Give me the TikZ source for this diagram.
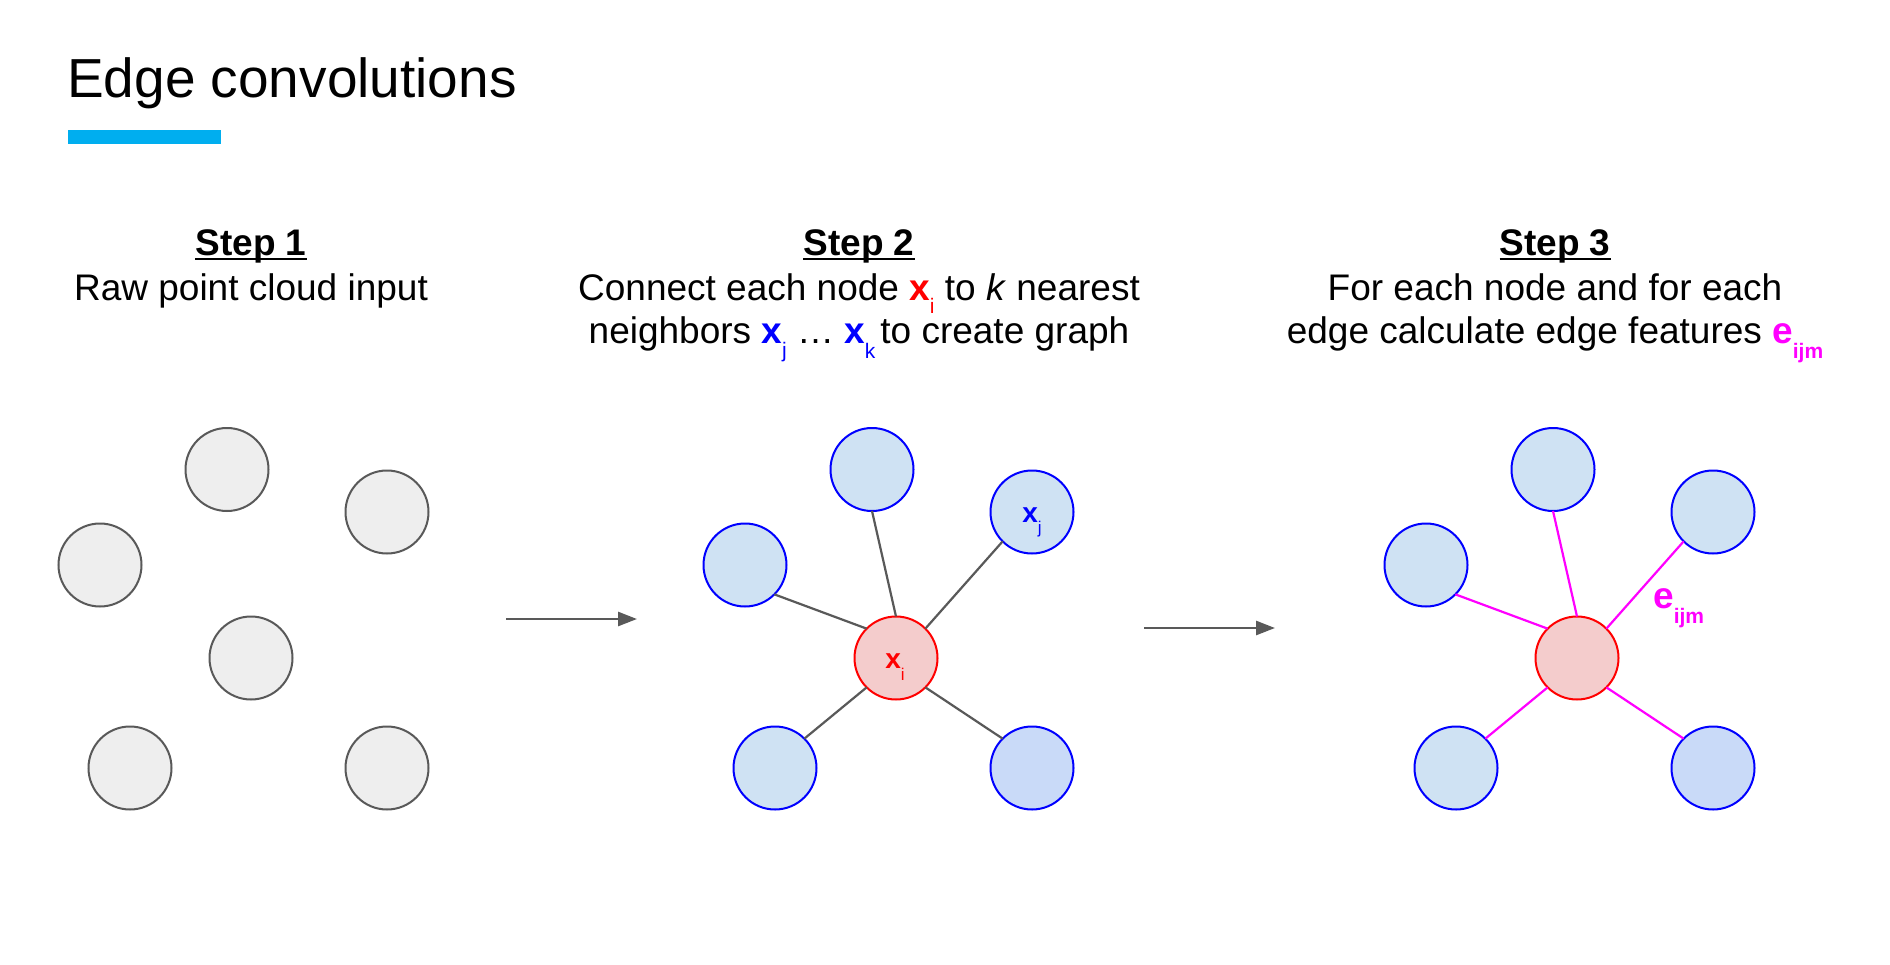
\documentclass[tikz,border=0pt]{standalone}
\usepackage{fontspec}
\setmainfont{Liberation Sans}
\usetikzlibrary{arrows.meta}
\definecolor{edgegray}{HTML}{595959}
\definecolor{ptfill}{HTML}{EEEEEE}
\definecolor{nbfill}{HTML}{CFE2F3}
\definecolor{nbfilltwo}{HTML}{C9DAF8}
\definecolor{ctrfill}{HTML}{F4CCCC}
\definecolor{pureblue}{HTML}{0000FF}
\definecolor{purered}{HTML}{FF0000}
\definecolor{puremag}{HTML}{FF00FF}
\definecolor{barblue}{HTML}{00AEEF}
\newcommand\lowsub[3]{\raisebox{-#1}{\fontsize{#2}{#2}\selectfont #3}}
\begin{document}
\begin{tikzpicture}[x=1pt,y=-1pt,
  pt/.style={circle,minimum size=83pt,inner sep=0pt,outer sep=0pt,line width=2pt},
  rawpt/.style={pt,draw=edgegray,fill=ptfill},
  nbpt/.style={pt,draw=pureblue,fill=nbfill},
  nbptb/.style={pt,draw=pureblue,fill=nbfilltwo},
  ctrpt/.style={pt,draw=purered,fill=ctrfill},
  bodytext/.style={inner sep=0pt,outer sep=0pt,anchor=base,font=\fontsize{37}{44}\selectfont},
  steptitle/.style={inner sep=0pt,outer sep=0pt,anchor=base,font=\fontsize{37}{44}\selectfont\bfseries},
  uline/.style={draw=black,line width=2.6pt},
  grayedge/.style={draw=edgegray,line width=2.2pt},
  magedge/.style={draw=puremag,line width=2.2pt},
  flowarrow/.style={draw=edgegray,line width=2.7pt,-{Triangle[length=19pt,width=14pt]}},
]
\useasboundingbox (0,0) rectangle (1890,964);
\fill[white] (0,0) rectangle (1890,964);

% title
\node[inner sep=0pt,anchor=base west,font=\fontsize{55}{60}\selectfont] (title) at (67,97) {Edge convolutions};
\fill[barblue] (68,130) rectangle (221,144);

% step headings
\node[steptitle] (s1) at (251,255) {Step 1};
\draw[uline] ([yshift=-4pt]s1.base west) -- ([yshift=-4pt]s1.base east);
\node[bodytext] (s1a) at (251,300) {Raw point cloud input};

\node[steptitle] (s2) at (859,255) {Step 2};
\draw[uline] ([yshift=-4pt]s2.base west) -- ([yshift=-4pt]s2.base east);
\node[bodytext] (s2a) at (859,300) {Connect each node \textcolor{purered}{\textbf{x}\lowsub{13pt}{21}{i}} to \textit{k} nearest};
\node[bodytext] (s2b) at (859,343) {neighbors \textcolor{pureblue}{\textbf{x}\lowsub{14pt}{21}{j}} \dots{} \textcolor{pureblue}{\textbf{x}\lowsub{15pt}{21}{k}}\hspace{5pt}to create graph};

\node[steptitle] (s3) at (1555,255) {Step 3};
\draw[uline] ([yshift=-4pt]s3.base west) -- ([yshift=-4pt]s3.base east);
\node[bodytext] (s3a) at (1555,300) {For each node and for each};
\node[bodytext] (s3b) at (1555,343) {edge calculate edge features \textcolor{puremag}{\textbf{e}\lowsub{15pt}{21}{\textbf{ijm}}}};

% step 1: raw points
\node[rawpt] (pa) at (227,469.5) {};
\node[rawpt] (pb) at (387,512) {};
\node[rawpt] (pc) at (100,565) {};
\node[rawpt] (pd) at (251,658) {};
\node[rawpt] (pe) at (130,768) {};
\node[rawpt] (pf) at (387,768) {};

% arrow 1
\coordinate (a1s) at (506,619);
\coordinate (a1e) at (637,619);
\draw[flowarrow] (a1s) -- (a1e);

% step 2: graph
\node[nbpt] (gt) at (872,469.5) {};
\node[nbpt] (gj) at (1032,512) {};
\node[nbpt] (gl) at (745,565) {};
\node[ctrpt] (gc) at (896,658) {};
\node[nbpt] (gbl) at (775,768) {};
\node[nbptb] (gbr) at (1032,768) {};
\draw[grayedge] (gc.north) -- (gt.south);
\draw[grayedge] (gc.north east) -- (gj.south west);
\draw[grayedge] (gc.north west) -- (gl.south east);
\draw[grayedge] (gc.south west) -- (gbl.north east);
\draw[grayedge] (gc.south east) -- (gbr.north west);
\node[inner sep=0pt,anchor=base,font=\fontsize{28}{30}\selectfont,text=purered] (gclab) at (895,668) {\textbf{x}\lowsub{12pt}{17}{i}};
\node[inner sep=0pt,anchor=base,font=\fontsize{28}{30}\selectfont,text=pureblue] (gjlab) at (1032,522.7) {\textbf{x}\lowsub{11pt}{17}{j}};

% arrow 2
\coordinate (a2s) at (1144,628);
\coordinate (a2e) at (1275,628);
\draw[flowarrow] (a2s) -- (a2e);

% step 3: edge features
\node[nbpt] (et) at (1553,469.5) {};
\node[nbpt] (etr) at (1713,512) {};
\node[nbpt] (el) at (1426,565) {};
\node[ctrpt] (ec) at (1577,658) {};
\node[nbpt] (ebl) at (1456,768) {};
\node[nbptb] (ebr) at (1713,768) {};
\draw[magedge] (ec.north) -- (et.south);
\draw[magedge] (ec.north east) -- (etr.south west);
\draw[magedge] (ec.north west) -- (el.south east);
\draw[magedge] (ec.south west) -- (ebl.north east);
\draw[magedge] (ec.south east) -- (ebr.north west);
\node[inner sep=0pt,anchor=base west,font=\fontsize{37}{44}\selectfont,text=puremag] (elab) at (1653,608) {\textbf{e}\lowsub{15pt}{21}{\textbf{ijm}}};
\end{tikzpicture}
\end{document}
